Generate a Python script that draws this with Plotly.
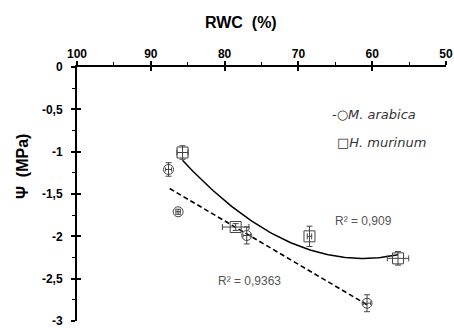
import numpy as np
import plotly.graph_objects as go

# --- data ---
arabica_rwc = [87.6, 86.3, 77.0, 60.7]
arabica_psi = [-1.21, -1.71, -1.99, -2.79]
arabica_rwc_err = [0.4, 0.3, 0.5, 0.5]
arabica_psi_err = [0.08, 0.03, 0.10, 0.10]

murinum_rwc = [85.7, 78.5, 68.5, 56.5]
murinum_psi = [-1.01, -1.89, -2.00, -2.26]
murinum_rwc_err = [0.75, 1.8, 0.3, 1.45]
murinum_psi_err = [0.08, 0.04, 0.12, 0.08]

x_ticks = [100, 90, 80, 70, 60, 50]
y_ticks = [0, -0.5, -1, -1.5, -2, -2.5, -3]
y_ticklabels = ["0", "-0,5", "-1", "-1,5", "-2", "-2,5", "-3"]

r2_arabica = "R² = 0,9363"
r2_murinum = "R² = 0,909"

# --- fits ---
fa = np.polyfit(arabica_rwc, arabica_psi, 1)
xa = np.linspace(min(arabica_rwc), max(arabica_rwc), 60)
fm = np.polyfit(murinum_rwc, murinum_psi, 2)
xm = np.linspace(min(murinum_rwc), max(murinum_rwc), 100)

W, H = 454, 328
L, R, T, B = 77, 8, 67, 7
PW, PH = W - L - R, H - T - B

mk_col = "#444444"
fig = go.Figure()
fig.add_trace(go.Scatter(x=xa, y=np.polyval(fa, xa), mode="lines",
                         line=dict(color="black", width=1.6, dash="5px,3px"),
                         showlegend=False, hoverinfo="skip"))
fig.add_trace(go.Scatter(x=xm, y=np.polyval(fm, xm), mode="lines",
                         line=dict(color="black", width=1.5),
                         showlegend=False, hoverinfo="skip"))
fig.add_trace(go.Scatter(
    x=arabica_rwc, y=arabica_psi, mode="markers",
    marker=dict(symbol="circle-open", size=10, color=mk_col, line=dict(width=1, color=mk_col)),
    error_x=dict(type="data", array=arabica_rwc_err, color=mk_col, thickness=1, width=2),
    error_y=dict(type="data", array=arabica_psi_err, color=mk_col, thickness=1, width=3),
    showlegend=False))
fig.add_trace(go.Scatter(
    x=murinum_rwc, y=murinum_psi, mode="markers",
    marker=dict(symbol="square-open", size=11, color=mk_col, line=dict(width=1, color=mk_col)),
    error_x=dict(type="data", array=murinum_rwc_err, color=mk_col, thickness=1, width=3),
    error_y=dict(type="data", array=murinum_psi_err, color=mk_col, thickness=1, width=3),
    showlegend=False))
# dummy trace for overlay axes (crossing ticks)
fig.add_trace(go.Scatter(x=[None], y=[None], xaxis="x2", yaxis="y2", showlegend=False))

tickfont = dict(family="Liberation Sans", size=12, color="black", weight="bold")
fig.update_layout(
    width=W, height=H,
    margin=dict(l=L, r=R, t=T, b=B, autoexpand=False),
    paper_bgcolor="white", plot_bgcolor="white",
    xaxis=dict(range=[100, 50], side="top", tickvals=x_ticks, ticks="outside", ticklen=4,
               tickwidth=1.5, tickcolor="black", showline=True, linecolor="black", linewidth=2,
               showgrid=False, zeroline=False, tickfont=tickfont,
               automargin=False, ticklabeloverflow="allow",
               minor=dict(dtick=5, ticks="outside", ticklen=3, tickwidth=1.2, tickcolor="black")),
    yaxis=dict(range=[-3, 0], tickvals=y_ticks, ticktext=y_ticklabels, ticks="outside", ticklen=4,
               tickwidth=1.5, tickcolor="black", showline=True, linecolor="black", linewidth=2,
               showgrid=False, zeroline=False, tickfont=tickfont, ticklabelstandoff=6,
               automargin=False, ticklabeloverflow="allow",
               minor=dict(dtick=0.25, ticks="outside", ticklen=3, tickwidth=1.2, tickcolor="black")),
    xaxis2=dict(range=[100, 50], overlaying="x", anchor="y2", side="top", tickvals=x_ticks,
                ticks="inside", ticklen=4, tickwidth=1.5, tickcolor="black", automargin=False,
                showticklabels=False, showgrid=False, zeroline=False, showline=False),
    yaxis2=dict(range=[-3, 0], overlaying="y", anchor="x2", side="left", tickvals=y_ticks,
                ticks="inside", ticklen=4, tickwidth=1.5, tickcolor="black", automargin=False,
                showticklabels=False, showgrid=False, zeroline=False, showline=False),
    showlegend=False,
)
try:
    fig.layout.xaxis.ticklabelstandoff = -2
except Exception:
    fig.layout.xaxis.ticklabelstandoff = 0


def px2paper(px, py):
    return (px - L) / PW, 1 - (py - T) / PH


ann_font = dict(family="Liberation Sans", size=12, color="#555555")
leg_font = dict(family="DejaVu Sans", size=13, color="#333333", style="italic")
title_font = dict(family="Liberation Sans", size=16, color="black", weight="bold")
annots = [
    ("RWC  (%)", 241, 22, title_font, 0, "center"),
    ("Ψ  (MPa)", 22, 167, title_font, -90, "center"),
    (r2_murinum, 363, 221, ann_font, 0, "center"),
    (r2_arabica, 249, 281, ann_font, 0, "center"),
    ("-○<i>M. arabica</i>", 330, 114, leg_font, 0, "left"),
    ("□<i>H. murinum</i>", 335, 142, leg_font, 0, "left"),
]
for text, x, y, font, ang, xa_ in annots:
    pxx, pyy = px2paper(x, y)
    fig.add_annotation(text=text, x=pxx, y=pyy, xref="paper", yref="paper",
                       xanchor=xa_, yanchor="middle", showarrow=False, font=font,
                       textangle=ang)

fig.write_html("out.html", config={"displayModeBar": False},
               post_script="document.body.style.margin='0';document.body.style.overflow='hidden';")
